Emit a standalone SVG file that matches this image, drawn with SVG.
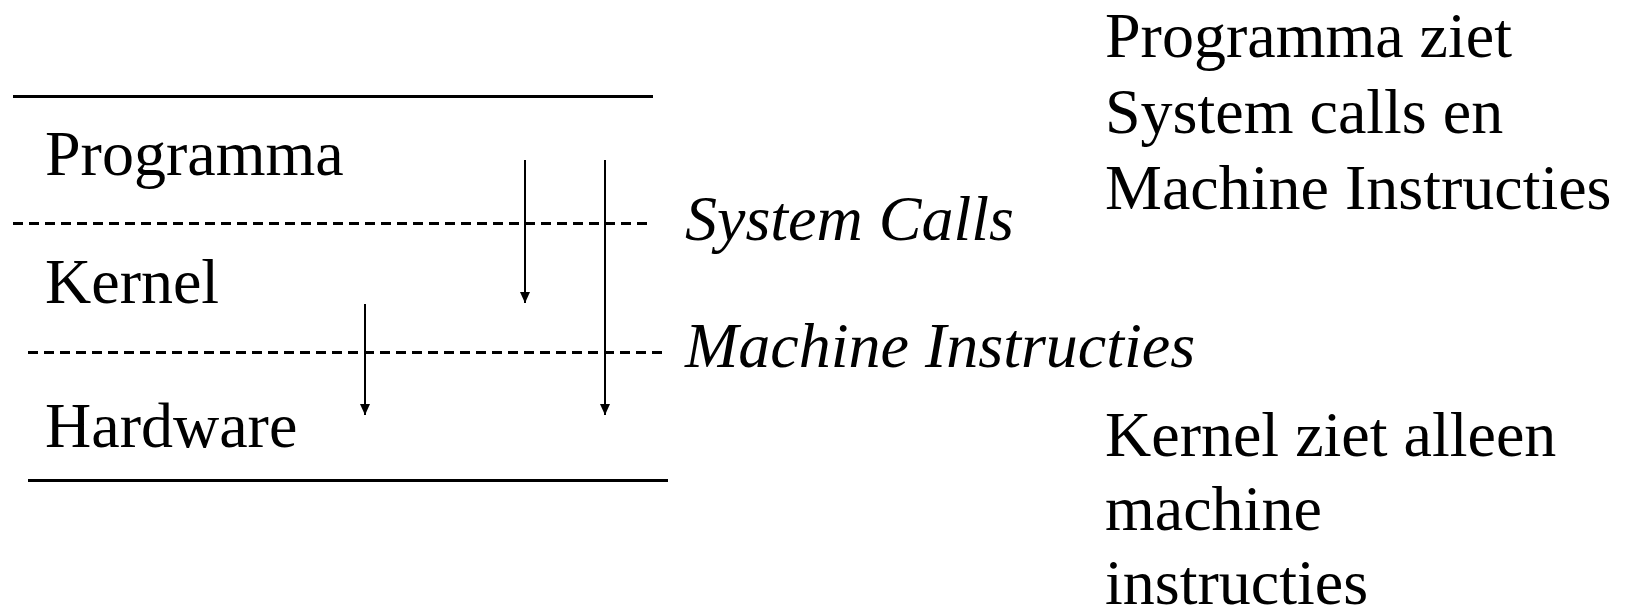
<svg xmlns="http://www.w3.org/2000/svg" width="1632" height="611" viewBox="0 0 1632 611">
  <defs>
    <marker id="head" viewBox="0 0 11 10" refX="11" refY="5" markerWidth="11" markerHeight="10" markerUnits="userSpaceOnUse" orient="auto">
      <path d="M0,0 L11,5 L0,10 Z" fill="#000"/>
    </marker>
    <style>
      .lbl { font-family: "Liberation Serif", "Times New Roman", serif; font-size: 64px; fill: #000; }
      .it { font-style: italic; }
      .solid { stroke: #000; stroke-width: 3; fill: none; }
      .dash { stroke: #000; stroke-width: 3; stroke-dasharray: 10 6; fill: none; }
      .arrow { stroke: #000; stroke-width: 2; fill: none; marker-end: url(#head); }
    </style>
  </defs>
  <rect width="1632" height="611" fill="#fff"/>

  <!-- layer boundaries -->
  <g id="boundaries">
    <line class="solid" x1="13" y1="96.5" x2="653" y2="96.5"/>
    <line class="dash" x1="13" y1="223.5" x2="653" y2="223.5"/>
    <line class="dash" x1="28" y1="352.5" x2="668" y2="352.5"/>
    <line class="solid" x1="28" y1="480.5" x2="668" y2="480.5"/>
  </g>

  <!-- layers -->
  <g id="programma"><text class="lbl" x="45" y="175">Programma</text></g>
  <g id="kernel"><text class="lbl" x="45" y="303">Kernel</text></g>
  <g id="hardware"><text class="lbl" x="45" y="447">Hardware</text></g>

  <!-- interface labels -->
  <g id="system-calls"><text class="lbl it" x="685" y="240">System Calls</text></g>
  <g id="machine-instructies"><text class="lbl it" x="685" y="367">Machine Instructies</text></g>

  <!-- notes -->
  <g id="note-programma">
    <text class="lbl" x="1105" y="57">Programma ziet</text>
    <text class="lbl" x="1105" y="133">System calls en</text>
    <text class="lbl" x="1105" y="209">Machine Instructies</text>
  </g>
  <g id="note-kernel">
    <text class="lbl" x="1105" y="456">Kernel ziet alleen</text>
    <text class="lbl" x="1105" y="530">machine</text>
    <text class="lbl" x="1105" y="604">instructies</text>
  </g>

  <!-- calls crossing the layers -->
  <g id="connectors">
    <line class="arrow" x1="525" y1="160" x2="525" y2="303"/>
    <line class="arrow" x1="605" y1="160" x2="605" y2="415"/>
    <line class="arrow" x1="365" y1="304" x2="365" y2="415"/>
  </g>
</svg>
